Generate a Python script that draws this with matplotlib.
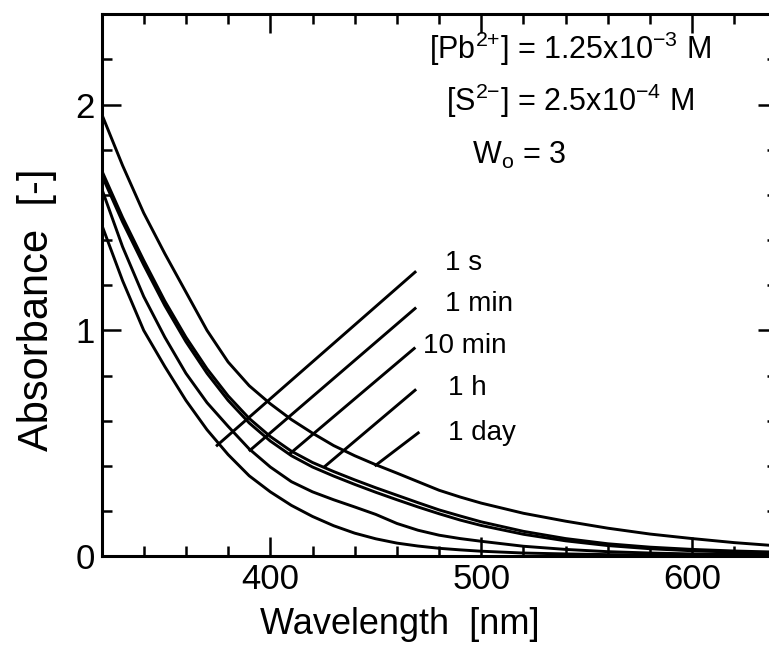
import matplotlib
matplotlib.use('Agg')
import matplotlib.pyplot as plt
from matplotlib.ticker import MultipleLocator

plt.rcParams['font.family'] = ['Liberation Sans', 'DejaVu Sans']
plt.rcParams['mathtext.fontset'] = 'custom'
plt.rcParams['mathtext.rm'] = 'Liberation Sans'
plt.rcParams['mathtext.it'] = 'Liberation Sans:italic'

# wavelength grid [nm]
wl = [320, 330, 340, 350, 360, 370, 380, 390, 400, 410, 420, 430, 440, 450,
      460, 470, 480, 490, 500, 520, 540, 560, 580, 600, 620, 640]

# absorbance
abs_1s = [1.47, 1.22, 1.00, 0.84, 0.69, 0.56, 0.45, 0.356, 0.285, 0.225, 0.176, 0.135, 0.102, 0.077,
          0.058, 0.045, 0.035, 0.028, 0.022, 0.014, 0.010, 0.007, 0.005, 0.004, 0.003, 0.003]
abs_1min = [1.63, 1.37, 1.15, 0.97, 0.81, 0.68, 0.575, 0.475, 0.395, 0.33, 0.285, 0.25, 0.218, 0.185,
            0.145, 0.115, 0.093, 0.078, 0.066, 0.044, 0.030, 0.020, 0.014, 0.010, 0.008, 0.007]
abs_10min = [1.69, 1.48, 1.29, 1.11, 0.95, 0.81, 0.69, 0.59, 0.51, 0.445, 0.395, 0.355, 0.318, 0.283,
             0.25, 0.218, 0.188, 0.16, 0.136, 0.097, 0.068, 0.047, 0.033, 0.024, 0.018, 0.014]
abs_1h = [1.71, 1.50, 1.31, 1.13, 0.97, 0.83, 0.71, 0.61, 0.53, 0.465, 0.415, 0.375, 0.338, 0.303,
          0.27, 0.237, 0.205, 0.178, 0.152, 0.11, 0.078, 0.055, 0.04, 0.03, 0.023, 0.018]
abs_1day = [1.96, 1.73, 1.52, 1.34, 1.17, 1.00, 0.86, 0.755, 0.675, 0.605, 0.545, 0.49, 0.445, 0.405,
            0.368, 0.33, 0.292, 0.262, 0.235, 0.19, 0.155, 0.124, 0.098, 0.078, 0.06, 0.046]

labels = ['1 s', '1 min', '10 min', '1 h', '1 day']
# leader lines: (x0, y0) near label -> (x1, y1) on curve
lead_x0 = [468.6, 468.6, 468.2, 468.6, 470.1]
lead_y0 = [1.258, 1.097, 0.92, 0.735, 0.546]
lead_x1 = [374.8, 390.4, 409.3, 425.9, 450.0]
lead_y1 = [0.491, 0.469, 0.454, 0.398, 0.403]
# label anchors (left edge, vertical centre)
lab_x = [482.8, 482.8, 472.4, 484.2, 484.2]
lab_y = [1.30, 1.115, 0.929, 0.743, 0.546]

fig = plt.figure(figsize=(7.69, 6.49), dpi=100)
ax = fig.add_axes([0.132, 0.143, 0.878, 0.835])

for ys in [abs_1s, abs_1min, abs_10min, abs_1h, abs_1day]:
    ax.plot(wl, ys, color='black', lw=2.1)

for i, lab in enumerate(labels):
    ax.plot([lead_x0[i], lead_x1[i]], [lead_y0[i], lead_y1[i]], color='black', lw=2.1)
    ax.text(lab_x[i], lab_y[i], lab, fontsize=20, ha='left', va='center')

ax.text(0.694, 0.937, r'[Pb$^{2{+}}$] = 1.25x10$^{{-}3}$ M', transform=ax.transAxes,
        fontsize=22, ha='center', va='center')
ax.text(0.694, 0.840, r'[S$^{2{-}}$] = 2.5x10$^{{-}4}$ M', transform=ax.transAxes,
        fontsize=22, ha='center', va='center')
ax.text(0.618, 0.740, r'W$_{\mathrm{o}}$ = 3', transform=ax.transAxes,
        fontsize=22, ha='center', va='center')

ax.set_xlim(320, 640)
ax.set_ylim(0, 2.4)
ax.xaxis.set_major_locator(MultipleLocator(100))
ax.xaxis.set_minor_locator(MultipleLocator(20))
ax.yaxis.set_major_locator(MultipleLocator(1))
ax.yaxis.set_minor_locator(MultipleLocator(0.2))
ax.tick_params(which='both', direction='in', top=True, right=True, width=1.8, labelsize=25)
ax.tick_params(which='major', length=14, pad=5)
ax.tick_params(which='minor', length=7.5)
for s in ax.spines.values():
    s.set_linewidth(2.2)

ax.set_xlabel('Wavelength  [nm]', fontsize=26)
ax.xaxis.set_label_coords(0.442, -0.094)
ax.set_ylabel('Absorbance  [-]', fontsize=30)
ax.yaxis.set_label_coords(-0.066, 0.455)

fig.savefig('out.png', dpi=100)
